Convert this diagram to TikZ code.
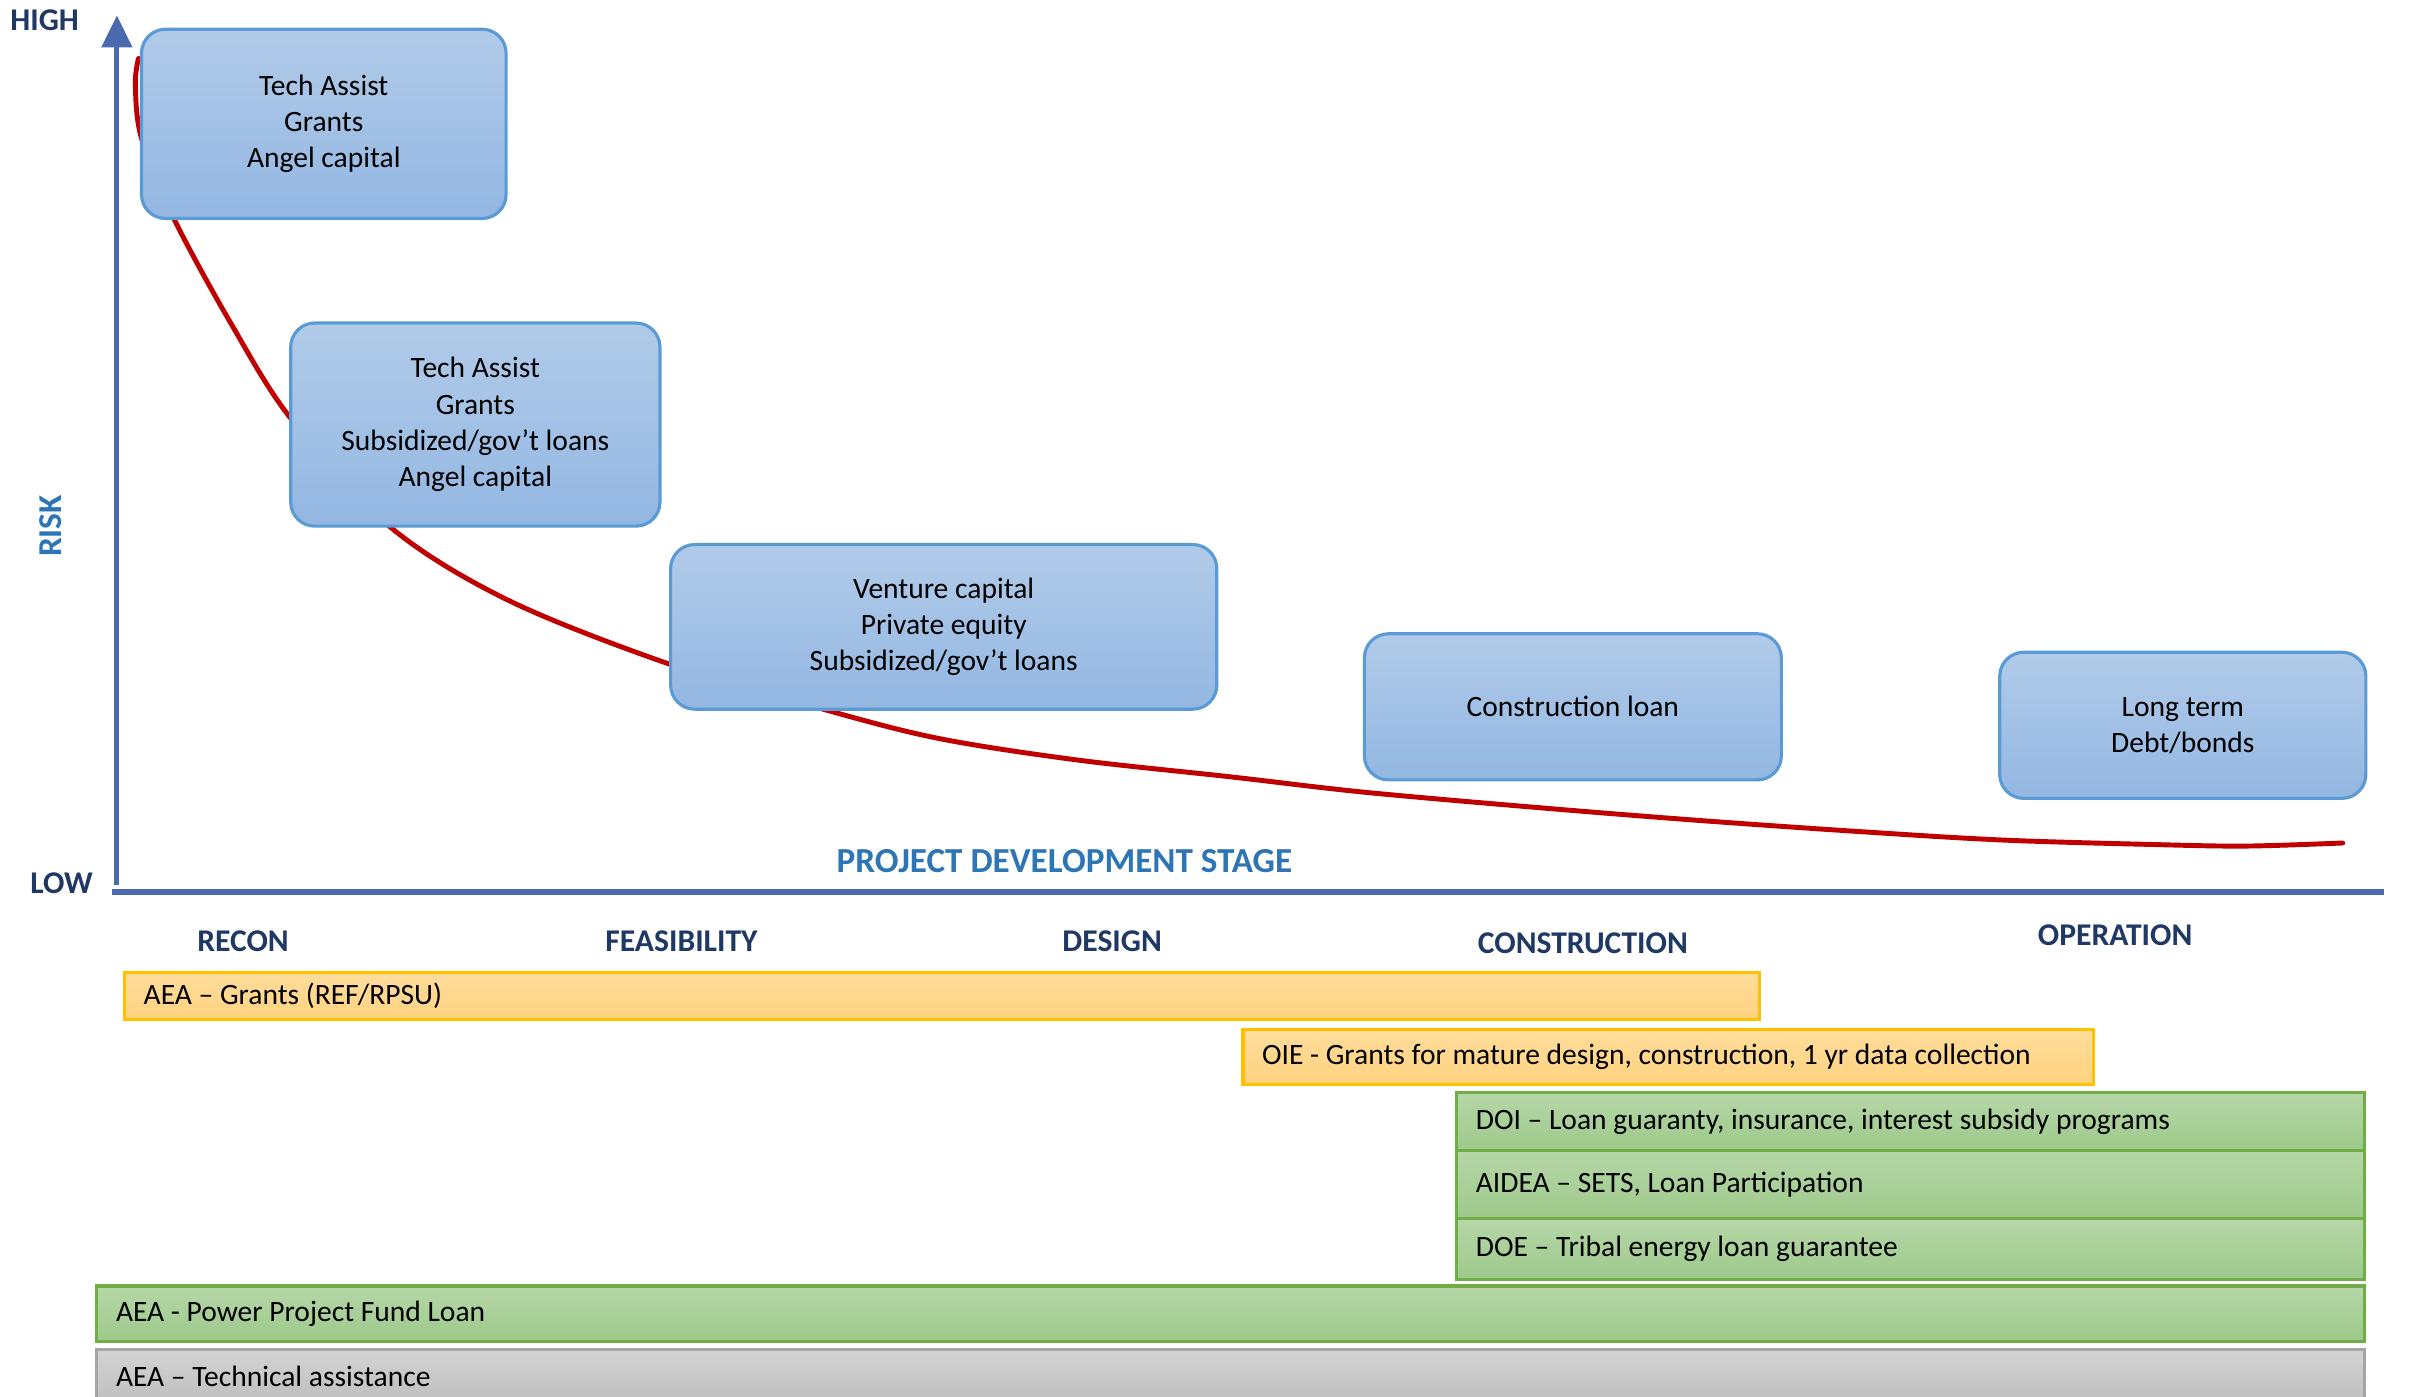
\documentclass[tikz,border=0pt]{standalone}
\usepackage{fontspec}
\setmainfont{Carlito}
\usepackage{tikz}
\usetikzlibrary{arrows.meta, fit}

\definecolor{stagenavy}{HTML}{1F3864}
\definecolor{headblue}{HTML}{2E75B6}
\definecolor{axisblue}{HTML}{4A69B0}
\definecolor{boxedge}{HTML}{5B9BD5}
\definecolor{boxtop}{HTML}{B1CBE9}
\definecolor{boxbottom}{HTML}{93B7E2}
\definecolor{riskred}{HTML}{C00000}
\definecolor{grantedge}{HTML}{FFC000}
\definecolor{granttop}{HTML}{FFDD9C}
\definecolor{grantbottom}{HTML}{FFD27F}
\definecolor{loanedge}{HTML}{70AD47}
\definecolor{loantop}{HTML}{B6D7A8}
\definecolor{loanbottom}{HTML}{9DC98A}
\definecolor{helpedge}{HTML}{A5A5A5}
\definecolor{helptop}{HTML}{D4D4D4}
\definecolor{helpbottom}{HTML}{BEBEBE}

% one funding programme bar: name, style, corner points, text
\newcommand*{\fundbar}[4]{%
  \node [#2, fit = {#3}] (#1) {};
  \node [bartext, anchor = west] (#1-label) at (#1.west) {#4};
}

\begin{document}
\begin{tikzpicture}[x = 0.015383cm, y = -0.015383cm,
    axis/.style     = {draw = axisblue, line width = 1.4pt},
    stage/.style    = {font = \fontsize{9}{11}\selectfont\bfseries, text = stagenavy},
    heading/.style  = {font = \fontsize{10}{12}\selectfont\bfseries, text = headblue},
    finance/.style  = {draw = boxedge, line width = 0.9pt, rounded corners = 0.24cm,
                       top color = boxtop, bottom color = boxbottom, inner sep = 0pt,
                       align = center, font = \fontsize{8.4}{10.3}\selectfont},
    bar/.style      = {line width = 0.9pt, inner sep = 0pt},
    grantbar/.style = {bar, draw = grantedge, top color = granttop, bottom color = grantbottom},
    loanbar/.style  = {bar, draw = loanedge, top color = loantop, bottom color = loanbottom},
    helpbar/.style  = {bar, draw = helpedge, top color = helptop, bottom color = helpbottom},
    bartext/.style  = {inner xsep = 0.2cm, inner ysep = 0pt,
                       font = \fontsize{8.4}{10}\selectfont},
  ]
  \useasboundingbox (0,0) rectangle (1568,908);

  % risk curve, behind the boxes
  \draw[riskred, line width = 1.4pt, line cap = round]
    plot[smooth, tension = 0.55] coordinates {
      (90,38) (88,55) (92,90) (113,142) (150,210)
      (189,272) (253,342) (330,390)
      (436,432) (535,461) (610,480) (700,494)
      (800,505) (887,515) (1000,525) (1100,533) (1200,540) (1300,546)
      (1400,549) (1460,550) (1523,548)};

  % axes
  \coordinate (origin)  at (76,575);
  \coordinate (riskmax) at (76,10);
  \coordinate (xstart)  at (73,580);
  \coordinate (xend)    at (1550,580);
  \draw[axis, -{Triangle[width = 0.3cm, length = 0.32cm]}] (origin) -- (riskmax);
  \draw[axis, line width = 1.7pt] (xstart) -- (xend);

  \node[stage] (high) at (29,13)  {HIGH};
  \node[stage] (low)  at (40,574) {LOW};
  \node[heading, font = \fontsize{9.5}{11}\selectfont\bfseries, rotate = 90] (risk) at (33,342) {RISK};
  \node[heading] (pds) at (692,560) {PROJECT DEVELOPMENT STAGE};

  % financing by stage
  \node[finance, minimum width = 3.646cm, minimum height = 1.892cm] (seed) at (210.5,80.5)
    {Tech Assist\\Grants\\Angel capital};
  \node[finance, minimum width = 3.692cm, minimum height = 2.031cm] (early) at (309,276)
    {Tech Assist\\Grants\\Subsidized/gov’t loans\\Angel capital};
  \node[finance, minimum width = 5.461cm, minimum height = 1.646cm] (venture) at (613.5,407.5)
    {Venture capital\\Private equity\\Subsidized/gov’t loans};
  \node[finance, minimum width = 4.169cm, minimum height = 1.461cm] (build) at (1022.5,459.5)
    {Construction loan};
  \node[finance, minimum width = 3.661cm, minimum height = 1.461cm] (longterm) at (1419,471.5)
    {Long term\\Debt/bonds};

  % stages
  \node[stage] (recon)        at (158,612)  {RECON};
  \node[stage] (feasibility)  at (443,612)  {FEASIBILITY};
  \node[stage] (design)       at (723,612)  {DESIGN};
  \node[stage] (construction) at (1029,613) {CONSTRUCTION};
  \node[stage] (operation)    at (1375,608) {OPERATION};

  % programmes
  \fundbar{aeagrants}{grantbar}{(81,632) (1144,663)}{AEA – Grants (REF/RPSU)}
  \fundbar{oie}{grantbar}{(808,669) (1361,705)}{OIE - Grants for mature design, construction, 1 yr data collection}
  \fundbar{doi}{loanbar}{(947,710) (1537,748)}{DOI – Loan guaranty, insurance, interest subsidy programs}
  \fundbar{aidea}{loanbar}{(947,748) (1537,792)}{AIDEA – SETS, Loan Participation}
  \fundbar{doe}{loanbar}{(947,792) (1537,832)}{DOE – Tribal energy loan guarantee}
  \fundbar{ppf}{loanbar}{(63,836) (1537,872)}{AEA - Power Project Fund Loan}
  \fundbar{techhelp}{helpbar}{(63,877) (1537,912)}{AEA – Technical assistance}
\end{tikzpicture}
\end{document}
